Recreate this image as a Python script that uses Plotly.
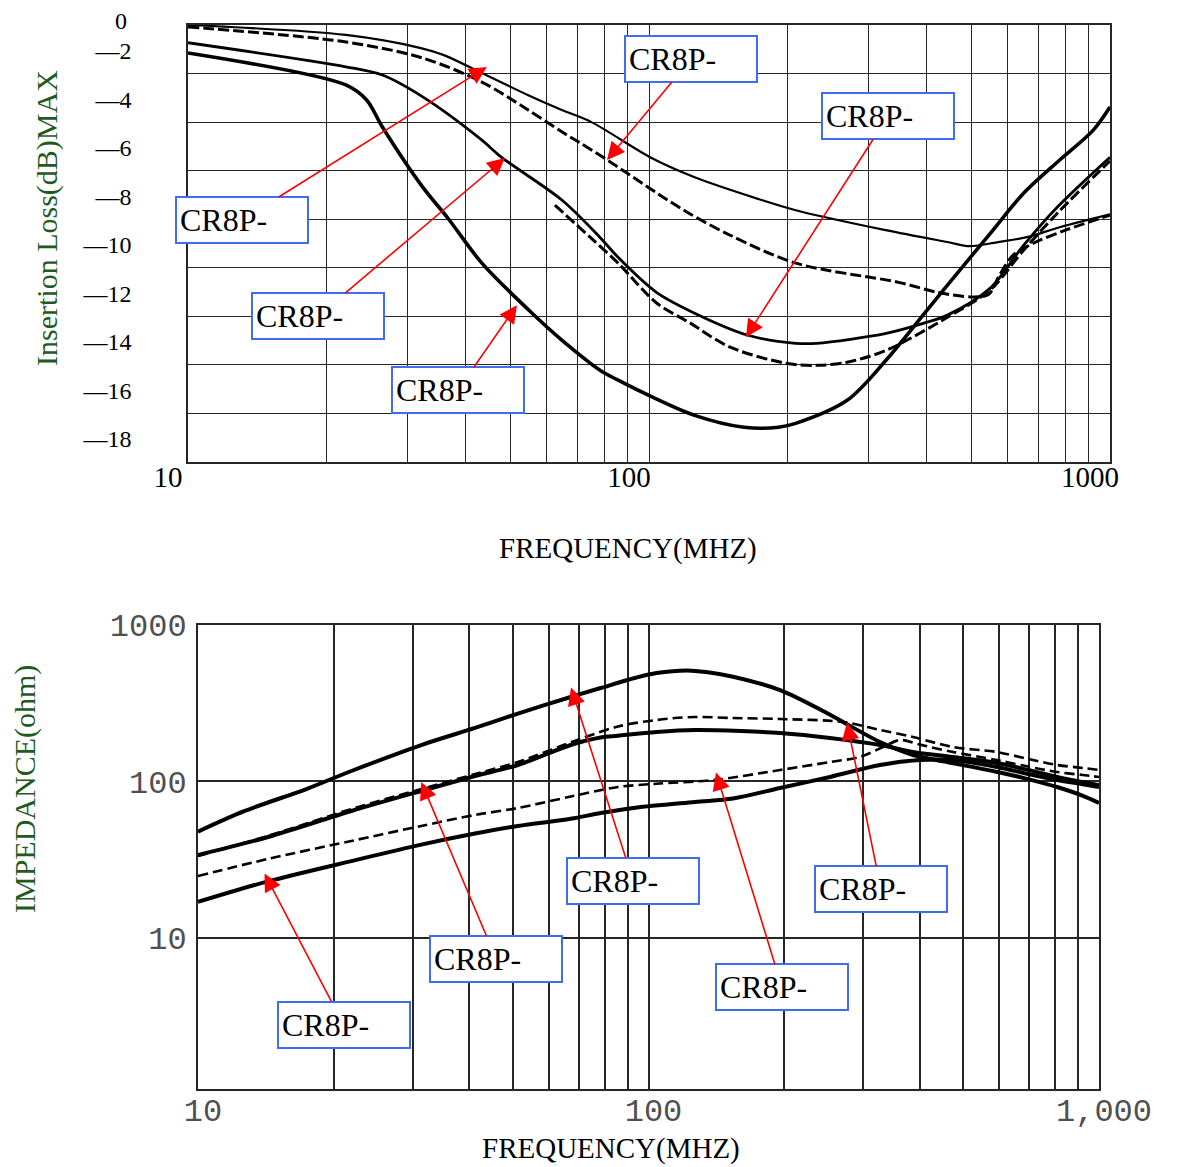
import numpy as np
import plotly.graph_objects as go

W, H = 1179, 1167

# ---------------- Insertion loss chart (top) ----------------
il_a_freq = [10, 22.0, 32.0, 35.9, 43.4, 54.7, 64.7, 75, 101.8, 125.6, 170.4, 208.2, 326, 444, 496, 549, 660, 778, 1000]
il_a_db = [0, -0.41, -0.95, -1.24, -1.98, -2.89, -3.50, -4.0, -5.50, -6.27, -7.13, -7.63, -8.45, -8.94, -9.11, -9.0, -8.74, -8.33, -7.8]

il_b_freq = [10, 22.0, 32.3, 43.4, 54.7, 64.7, 70.8, 81.8, 104, 121, 150, 208.2, 348, 420, 500, 545, 576, 615, 682, 801, 1000]
il_b_db = [-0.08, -0.70, -1.36, -2.35, -3.50, -4.40, -4.85, -5.60, -6.92, -7.71, -8.66, -9.81, -10.6, -11.0, -11.2, -11.1, -10.3, -9.5, -8.99, -8.45, -7.83]

il_c_freq = [10, 22.0, 26.4, 32.3, 43.4, 47.8, 64.7, 78.3, 85.7, 103.6, 125.6, 164, 208, 231, 327, 395, 444, 549, 648, 769, 1000]
il_c_db = [-0.73, -1.72, -2.06, -2.96, -4.74, -5.44, -7.21, -8.75, -9.57, -11.0, -11.87, -12.78, -13.11, -13.11, -12.70, -12.28, -11.95, -10.85, -9.1, -7.5, -5.45]

il_d_freq = [62.5, 74.5, 85.7, 104, 122.9, 150, 198, 231, 269, 327, 444, 549, 648, 769, 1000]
il_d_db = [-7.42, -8.74, -9.81, -11.46, -12.28, -13.27, -13.93, -14.02, -13.89, -13.40, -12.04, -10.92, -9.3, -7.75, -5.6]

il_e_freq = [10, 22.0, 24.4, 26.4, 32.3, 36.6, 43.4, 54.9, 64.7, 78.3, 85.7, 101.8, 125.6, 160.7, 191, 208, 269, 327, 395, 435, 549, 648, 778, 920, 1000]
il_e_db = [-1.15, -2.47, -3.09, -4.20, -6.68, -7.95, -9.81, -11.75, -12.98, -14.22, -14.63, -15.33, -16.08, -16.57, -16.57, -16.41, -15.46, -13.8, -11.9, -10.92, -8.6, -6.95, -5.56, -4.33, -3.38]

# ---------------- Impedance chart (bottom) ----------------
z_p_freq = [10, 12.7, 17.4, 21.9, 31.3, 41.2, 51.3, 67.2, 78.3, 93.6, 104.2, 121.8, 134.2, 154, 195.9, 246.5, 270.3, 326.6, 386.5, 459.8, 595, 692, 807, 921, 1000]
z_p_ohm = [47.8, 64.8, 89.5, 116.7, 171, 220, 271.6, 346.7, 395.6, 459.8, 493.5, 512.8, 500.9, 467.4, 384, 278, 240, 178.8, 147.7, 133.2, 115, 104, 92.2, 81, 72.9]

z_q_freq = [10, 14.3, 21.9, 31.3, 41.2, 51.3, 67.2, 78.3, 85.6, 104.2, 126.8, 160.5, 195.9, 252.9, 326.6, 386.5, 474.1, 593.6, 692, 807, 921, 1000]
z_q_ohm = [33.9, 44.2, 64.8, 87.0, 108.4, 127.5, 171, 190.8, 195.9, 207.2, 213.4, 210.2, 204.1, 189.7, 171.1, 154.3, 143.4, 131.3, 119, 106.9, 99, 95]

z_r_freq = [10, 14.3, 21.9, 31.3, 41.2, 51.3, 70.5, 85.6, 104.2, 126.8, 154, 195.9, 270.3, 326.6, 386.5, 474.1, 593.6, 692, 807, 921, 1000]
z_r_ohm = [33.4, 44.9, 66.7, 89.5, 111.6, 133.3, 186.9, 224.6, 247.2, 258.3, 254.5, 250.8, 240, 213.4, 192.4, 166.1, 154.3, 140, 127.5, 122, 118.4]

z_s_freq = [10, 14.3, 21.9, 31.3, 41.2, 51.3, 67.2, 85.6, 104.2, 139.8, 195.9, 252.9, 294.8, 331.6, 361.6, 400, 474.1, 593.6, 692, 807, 921, 1000]
z_s_ohm = [24.9, 32.0, 41.7, 52.0, 61.1, 67.7, 80.1, 92.2, 96.8, 102.2, 118.4, 133.2, 143.4, 166.1, 184, 172, 154.3, 137.2, 125, 115, 110, 106.9]

z_t_freq = [10, 14.3, 21.9, 31.3, 41.2, 51.3, 67.2, 78.3, 93.6, 126.8, 154, 195.9, 252.9, 326.6, 400.6, 474.1, 593.6, 692, 807, 921, 1000]
z_t_ohm = [17.0, 23.0, 31.0, 39.5, 46.5, 52.0, 57.8, 62.9, 68.0, 74.0, 77.9, 90.9, 106.9, 127.5, 137.2, 137.2, 123.8, 112, 102.2, 96, 92.2]

# ---------------- ticks ----------------
freq_grid = [10, 20, 30, 40, 50, 60, 70, 80, 90, 100, 200, 300, 400, 500, 600, 700, 800, 900, 1000]
top_freq_labels = {10: "10", 100: "100", 1000: "1000"}
bottom_freq_labels = {10: "10", 100: "100", 1000: "1,000"}
il_ticks = [0, -2, -4, -6, -8, -10, -12, -14, -16, -18]
z_ticks = [1, 10, 100, 1000]
z_tick_labels = ["", "10", "100", "1000"]

# ---------------- callouts ----------------
label_text = "CR8P-"
# (tip frequency, tip value) for each callout
top_callout_tips = [(44.5, -1.73), (48.7, -5.48), (51.7, -11.54), (81.1, -5.56), (162.3, -12.86)]
bottom_callout_tips = [(14.05, 25.8), (31.3, 99.3), (67.3, 398.7), (275.8, 238.4), (141.2, 114.2)]
# pixel offsets of label box centre from tip
top_callout_offsets = [(-245, 153), (-187, 158), (-59, 85), (84, -101), (142, -221)]
bottom_callout_offsets = [(79, 151), (75, 177), (62, 193), (34, 167), (66, 215)]

fig = go.Figure()

def add(xs, ys, width, dash, xa, ya):
    fig.add_trace(go.Scatter(x=xs, y=ys, mode="lines", xaxis=xa, yaxis=ya,
                             line=dict(color="black", width=width, dash=dash, shape="spline", smoothing=0.9),
                             showlegend=False, hoverinfo="skip"))

add(il_a_freq, il_a_db, 2.2, "solid", "x", "y")
add(il_b_freq, il_b_db, 3.0, "11px,4px", "x", "y")
add(il_c_freq, il_c_db, 2.8, "solid", "x", "y")
add(il_d_freq, il_d_db, 3.0, "11px,4px", "x", "y")
add(il_e_freq, il_e_db, 3.6, "solid", "x", "y")

add(z_p_freq, z_p_ohm, 4.0, "solid", "x2", "y2")
add(z_q_freq, z_q_ohm, 4.0, "solid", "x2", "y2")
add(z_r_freq, z_r_ohm, 2.6, "10px,5px", "x2", "y2")
add(z_s_freq, z_s_ohm, 2.6, "10px,5px", "x2", "y2")
add(z_t_freq, z_t_ohm, 4.0, "solid", "x2", "y2")

def px(x):
    return x / W
def py(y):
    return 1 - y / H

serif = "Liberation Serif"
grid_col = "#262626"
mono_col = "#505050"

fig.update_layout(
    width=W, height=H,
    margin=dict(l=0, r=0, t=0, b=0, autoexpand=False),
    paper_bgcolor="white", plot_bgcolor="white",
    font=dict(family=serif, color="black"),
    xaxis=dict(type="log", domain=[px(188), px(1110)], range=[1, 3], anchor="y", automargin=False,
               tickvals=freq_grid, ticktext=[top_freq_labels.get(v, "") for v in freq_grid],
               showgrid=True, gridcolor=grid_col, gridwidth=1.4,
               showline=True, linecolor=grid_col, linewidth=1.6, mirror=True,
               ticks="", tickfont=dict(family=serif, size=29, color="black"),
               ticklabelshift=-20, ticklabelstandoff=-12, ticklabeloverflow="allow", zeroline=False),
    yaxis=dict(domain=[py(462), py(25)], range=[-18, 0], anchor="x", automargin=False,
               tickvals=il_ticks, ticktext=[""] + ["\u2014" + str(-v) for v in il_ticks[1:]],
               showgrid=True, gridcolor=grid_col, gridwidth=1.4,
               showline=True, linecolor=grid_col, linewidth=1.6, mirror=True,
               ticks="", tickfont=dict(family=serif, size=24, color="black"),
               ticklabelshift=-23, ticklabelstandoff=50, ticklabeloverflow="allow", zeroline=False),
    xaxis2=dict(type="log", domain=[px(198), px(1099)], range=[1, 3], anchor="y2", automargin=False,
                tickvals=freq_grid, ticktext=[bottom_freq_labels.get(v, "") for v in freq_grid],
                showgrid=True, gridcolor=grid_col, gridwidth=1.5,
                showline=True, linecolor=grid_col, linewidth=2, mirror=True,
                ticks="", tickfont=dict(family="Liberation Mono", size=32, color=mono_col),
                ticklabelshift=5, ticklabelstandoff=-8, ticklabeloverflow="allow", zeroline=False),
    yaxis2=dict(type="log", domain=[py(1089), py(625)], range=[0.035, 3], anchor="x2", automargin=False,
                tickvals=z_ticks, ticktext=z_tick_labels,
                showgrid=True, gridcolor=grid_col, gridwidth=1.5,
                showline=True, linecolor=grid_col, linewidth=2, mirror=True,
                ticks="", tickfont=dict(family="Liberation Mono", size=32, color=mono_col),
                ticklabelstandoff=3, ticklabeloverflow="allow", zeroline=False),
)

annotations = []
green = "#1f5a1f"
def txt(text, x, y, size, color="black", angle=0, family=serif):
    return dict(text=text, x=px(x), y=py(y), xref="paper", yref="paper", xanchor="center", yanchor="middle",
                textangle=angle, showarrow=False, font=dict(family=family, size=size, color=color))

annotations.append(txt("Insertion Loss(dB)MAX", 47, 218, 30, green, -90))
annotations.append(txt("FREQUENCY(MHZ)", 628, 548, 29))
annotations.append(txt("IMPEDANCE(ohm)", 25, 789, 30, green, -90))
annotations.append(txt("FREQUENCY(MHZ)", 611, 1148, 29))
annotations.append(txt("0", 121, 21, 24))

box = dict(font=dict(family=serif, size=32, color="black"), width=124, height=38, align="left",
           valign="middle", borderpad=3, borderwidth=2, bordercolor="#3f6cf2", bgcolor="white",
           showarrow=True, arrowcolor="red", arrowwidth=1.6, arrowhead=2, arrowsize=2.2,
           axref="pixel", ayref="pixel")

for (f, v), (ox, oy) in zip(top_callout_tips, top_callout_offsets):
    annotations.append(dict(text=label_text, x=np.log10(f), y=v, xref="x", yref="y", ax=ox, ay=oy, **box))
for (f, v), (ox, oy) in zip(bottom_callout_tips, bottom_callout_offsets):
    annotations.append(dict(text=label_text, x=np.log10(f), y=np.log10(v), xref="x2", yref="y2", ax=ox, ay=oy, **box))

fig.update_layout(annotations=annotations)
fig.write_html("out.html", config={"displayModeBar": False},
               post_script="document.body.style.margin='0px';")
